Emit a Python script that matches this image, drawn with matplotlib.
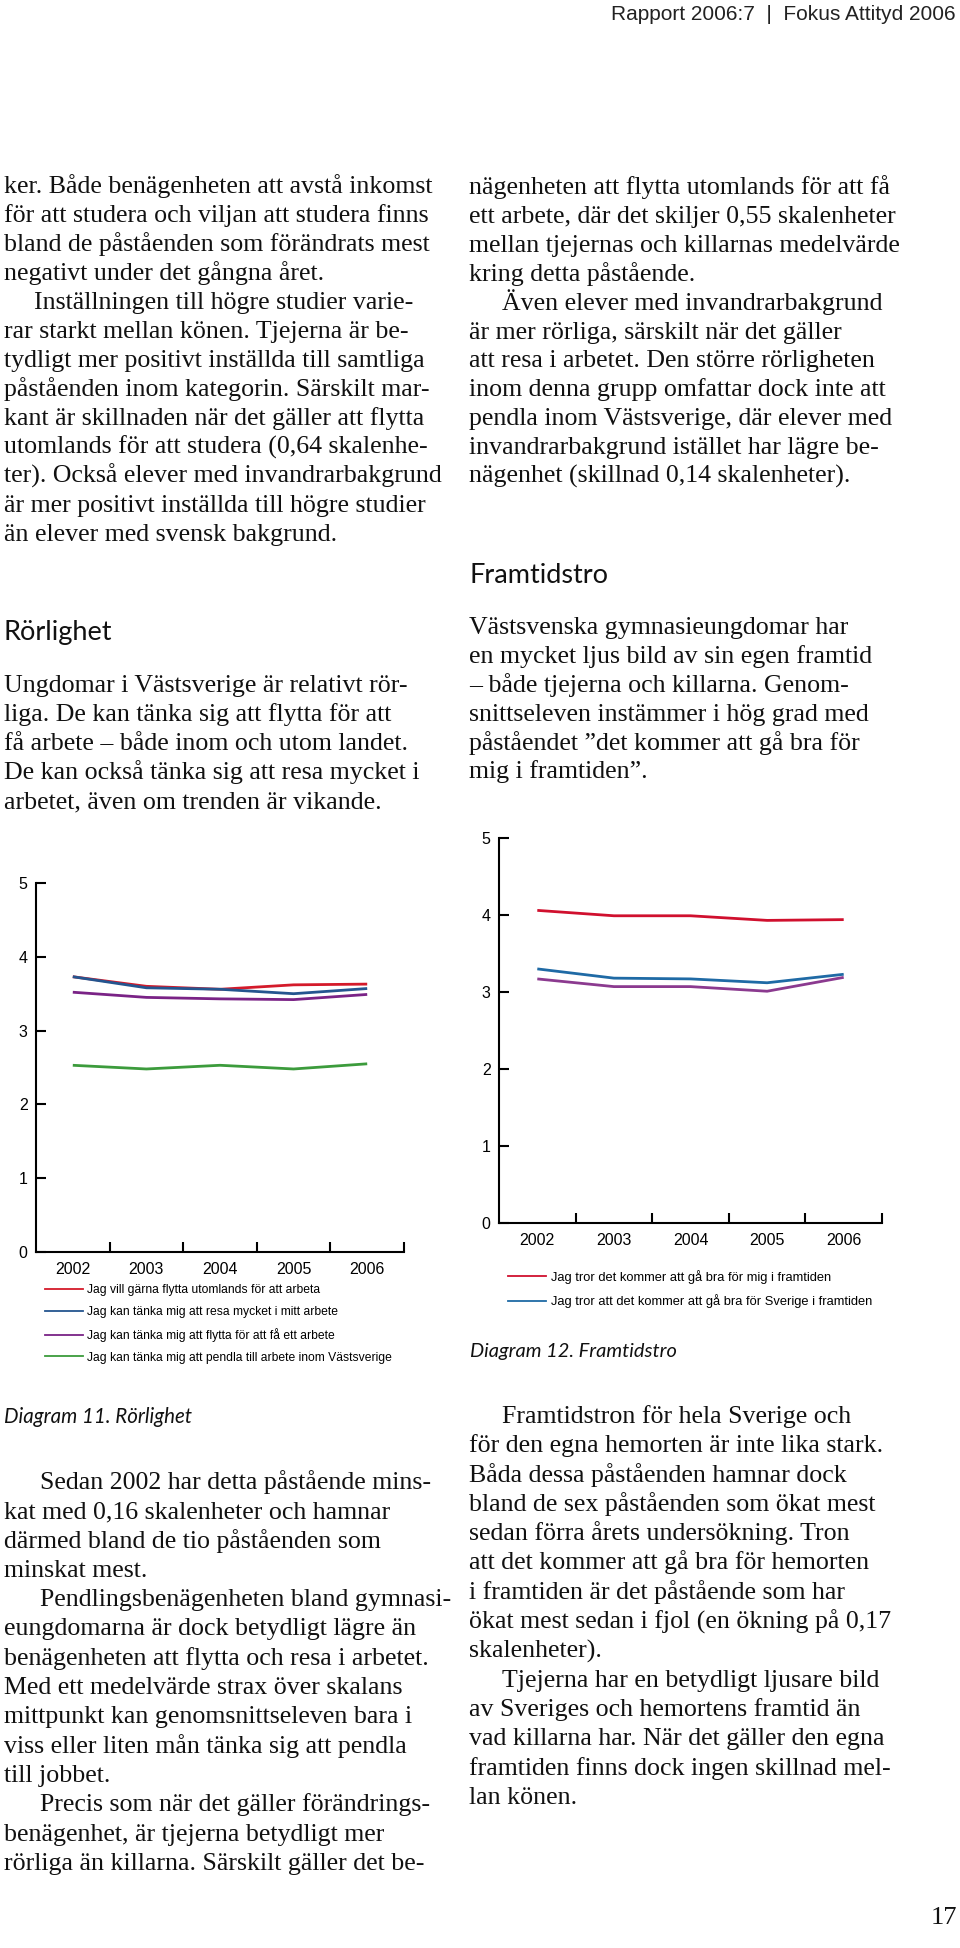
import matplotlib.pyplot as plt
import matplotlib.lines as mlines

W, H = 960, 1948

years = ["2002", "2003", "2004", "2005", "2006"]

# Diagram 11. Rörlighet
rorl_labels = [
    "Jag vill gärna flytta utomlands för att arbeta",
    "Jag kan tänka mig att resa mycket i mitt arbete",
    "Jag kan tänka mig att flytta för att få ett arbete",
    "Jag kan tänka mig att pendla till arbete inom Västsverige",
]
rorl_utomlands = [3.73, 3.60, 3.56, 3.62, 3.63]
rorl_resa = [3.73, 3.58, 3.56, 3.50, 3.57]
rorl_flytta = [3.52, 3.45, 3.43, 3.42, 3.49]
rorl_pendla = [2.53, 2.48, 2.53, 2.48, 2.55]

# Diagram 12. Framtidstro
fram_labels = [
    "Jag tror det kommer att gå bra för mig i framtiden",
    "Jag tror att det kommer att gå bra för Sverige i framtiden",
]
fram_mig = [4.06, 3.99, 3.99, 3.93, 3.94]
fram_sverige = [3.30, 3.18, 3.17, 3.12, 3.23]
fram_hemort = [3.17, 3.07, 3.07, 3.01, 3.19]

header = "Rapport 2006:7  |  Fokus Attityd 2006"
page_no = "17"

left_top = [
    "ker. Både benägenheten att avstå inkomst",
    "för att studera och viljan att studera finns",
    "bland de påståenden som förändrats mest",
    "negativt under det gångna året.",
    "\tInställningen till högre studier varie-",
    "rar starkt mellan könen. Tjejerna är be-",
    "tydligt mer positivt inställda till samtliga",
    "påståenden inom kategorin. Särskilt mar-",
    "kant är skillnaden när det gäller att flytta",
    "utomlands för att studera (0,64 skalenhe-",
    "ter). Också elever med invandrarbakgrund",
    "är mer positivt inställda till högre studier",
    "än elever med svensk bakgrund.",
]
left_mid = [
    "Ungdomar i Västsverige är relativt rör-",
    "liga. De kan tänka sig att flytta för att",
    "få arbete – både inom och utom landet.",
    "De kan också tänka sig att resa mycket i",
    "arbetet, även om trenden är vikande.",
]
left_bottom = [
    "\tSedan 2002 har detta påstående mins-",
    "kat med 0,16 skalenheter och hamnar",
    "därmed bland de tio påståenden som",
    "minskat mest.",
    "\tPendlingsbenägenheten bland gymnasi-",
    "eungdomarna är dock betydligt lägre än",
    "benägenheten att flytta och resa i arbetet.",
    "Med ett medelvärde strax över skalans",
    "mittpunkt kan genomsnittseleven bara i",
    "viss eller liten mån tänka sig att pendla",
    "till jobbet.",
    "\tPrecis som när det gäller förändrings-",
    "benägenhet, är tjejerna betydligt mer",
    "rörliga än killarna. Särskilt gäller det be-",
]
right_top = [
    "nägenheten att flytta utomlands för att få",
    "ett arbete, där det skiljer 0,55 skalenheter",
    "mellan tjejernas och killarnas medelvärde",
    "kring detta påstående.",
    "\tÄven elever med invandrarbakgrund",
    "är mer rörliga, särskilt när det gäller",
    "att resa i arbetet. Den större rörligheten",
    "inom denna grupp omfattar dock inte att",
    "pendla inom Västsverige, där elever med",
    "invandrarbakgrund istället har lägre be-",
    "nägenhet (skillnad 0,14 skalenheter).",
]
right_mid = [
    "Västsvenska gymnasieungdomar har",
    "en mycket ljus bild av sin egen framtid",
    "– både tjejerna och killarna. Genom-",
    "snittseleven instämmer i hög grad med",
    "påståendet ”det kommer att gå bra för",
    "mig i framtiden”.",
]
right_bottom = [
    "\tFramtidstron för hela Sverige och",
    "för den egna hemorten är inte lika stark.",
    "Båda dessa påståenden hamnar dock",
    "bland de sex påståenden som ökat mest",
    "sedan förra årets undersökning. Tron",
    "att det kommer att gå bra för hemorten",
    "i framtiden är det påstående som har",
    "ökat mest sedan i fjol (en ökning på 0,17",
    "skalenheter).",
    "\tTjejerna har en betydligt ljusare bild",
    "av Sveriges och hemortens framtid än",
    "vad killarna har. När det gäller den egna",
    "framtiden finns dock ingen skillnad mel-",
    "lan könen.",
]

SERIF = ["Liberation Serif", "DejaVu Serif"]
SANS = ["Lato", "DejaVu Sans"]
NARROW = ["Liberation Sans Narrow", "Liberation Sans", "DejaVu Sans"]

fig = plt.figure(figsize=(W / 100, H / 100), dpi=100)
fig.patch.set_facecolor("white")


def fx(x):
    return x / W


def fy(y):
    return 1 - y / H


def block(lines, x, y0, step, indent=33, size=18.6):
    for i, s in enumerate(lines):
        xx = x
        if s.startswith("\t"):
            s = s[1:]
            xx = x + indent
        fig.text(fx(xx), fy(y0 + i * step), s, ha="left", va="baseline",
                 fontsize=size, family=SERIF, color="#111111")


def chart(left, right, y0, y5, series, colors, leg_n, leg_labels, leg_x, leg_y, leg_size):
    ax = fig.add_axes([fx(left), fy(y0), (right - left) / W, (y0 - y5) / H])
    for vals, c in zip(series, colors):
        ax.plot(range(len(years)), vals, color=c, lw=2, solid_capstyle="butt", clip_on=False)
    ax.set_xlim(-0.5, 4.5)
    ax.set_ylim(0, 5)
    for sp in ["top", "right"]:
        ax.spines[sp].set_visible(False)
    for sp in ["left", "bottom"]:
        ax.spines[sp].set_linewidth(1.5)
    ax.set_yticks(range(6))
    ax.set_yticklabels([str(i) for i in range(6)], family=NARROW, fontsize=11.5)
    ax.tick_params(axis="y", direction="in", length=7, width=1.5, pad=6)
    ax.set_xticks([0.5, 1.5, 2.5, 3.5, 4.5])
    ax.set_xticklabels([])
    ax.tick_params(axis="x", which="major", direction="in", length=7, width=1.5)
    ax.set_xticks(range(len(years)), minor=True)
    ax.set_xticklabels(years, minor=True, family=NARROW, fontsize=11.5)
    ax.tick_params(axis="x", which="minor", length=0, pad=7)
    handles = [mlines.Line2D([], [], color=c, lw=1.3) for c in colors[:leg_n]]
    fig.legend(handles, leg_labels, loc="upper left",
               bbox_to_anchor=(fx(leg_x), fy(leg_y)), bbox_transform=fig.transFigure,
               frameon=False, prop={"family": NARROW, "size": leg_size},
               handlelength=38 / (leg_size * 1.389), handletextpad=0.35,
               labelspacing=0.82, borderpad=0, borderaxespad=0)
    return ax


# header and page number
fig.text(fx(956), fy(15), header, ha="right", va="center", fontsize=15,
         family=NARROW, color="#222222")
fig.text(fx(957), fy(1918), page_no, ha="right", va="center", fontsize=19,
         family=SERIF, color="#111111")

# body text
block(left_top, 4, 193, 29.0, indent=30)
fig.text(fx(4), fy(640), "Rörlighet", ha="left", va="baseline", fontsize=19.5,
         family=SANS, color="#111111")
block(left_mid, 4, 692, 29.0)
block(right_top, 469, 194, 28.9)
fig.text(fx(469), fy(583), "Framtidstro", ha="left", va="baseline", fontsize=19.5,
         family=SANS, color="#111111")
block(right_mid, 469, 634, 28.9)
block(left_bottom, 4, 1489, 29.3, indent=36)
block(right_bottom, 469, 1423, 29.3)

# charts
chart(36, 404, 1252, 883,
      [rorl_utomlands, rorl_resa, rorl_flytta, rorl_pendla],
      ["#d41a2a", "#24558f", "#7a2386", "#3c9b3c"],
      4, rorl_labels, 45, 1284, 8.7)
fig.text(fx(4), fy(1417), "Diagram 11. Rörlighet", ha="left", va="center",
         fontsize=14.8, family=SANS, style="italic", color="#111111")

chart(499, 882, 1223, 838,
      [fram_mig, fram_sverige, fram_hemort],
      ["#d0102e", "#1f6aa5", "#8b3a8f"],
      2, fram_labels, 508, 1270, 9.3)
fig.text(fx(470), fy(1352), "Diagram 12. Framtidstro", ha="left", va="center",
         fontsize=14.4, family=SANS, style="italic", color="#111111")

fig.savefig("out.png", dpi=100, facecolor="white")
